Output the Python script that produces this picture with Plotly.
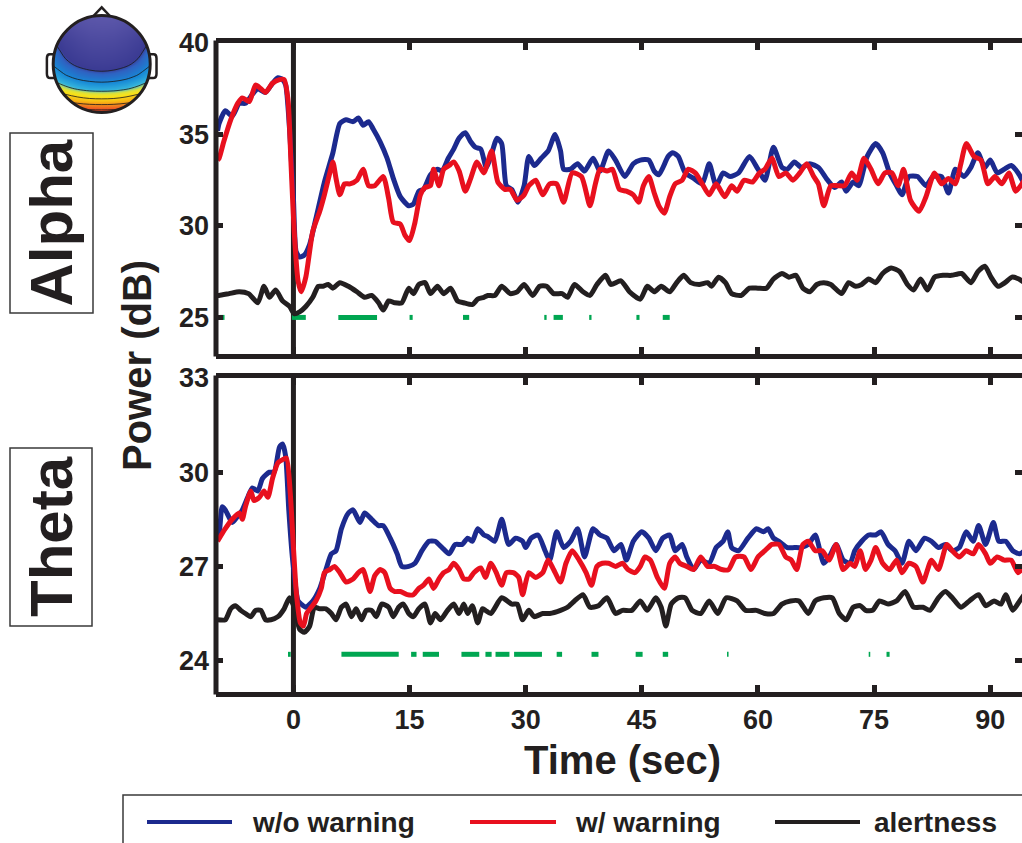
import plotly.graph_objects as go

W, H = 1022, 843

# ---------------- data ----------------
TIME_RANGE = [-10, 94.1]
STIM_ONSET = 0
X_TICKS = [0, 15, 30, 45, 60, 75, 90]

ALPHA_RANGE = [23, 40]
ALPHA_Y_TICKS = [25, 30, 35, 40]
THETA_RANGE = [23, 33]
THETA_Y_TICKS = [24, 27, 30, 33]

SERIES_NAMES = ["w/o warning", "w/ warning", "alertness"]
BAND_NAMES = ["Alpha", "Theta"]

# Alpha band, without warning
ALPHA_WO_T = [-9.8, -9.6, -8.8, -7.9, -7.0, -6.2, -5.3, -4.6, -3.6, -2.7, -2.0, -1.4, -1.0, -0.5, 0.0,
              0.35, 0.8, 1.4, 2.1, 2.9, 4.0, 5.1, 6.0, 6.8, 7.7, 8.4, 9.0, 9.7, 10.3, 11.2, 12.1, 12.9,
              13.8, 14.9, 15.5, 16.2, 16.8, 17.7, 18.6, 19.2, 20.0, 20.7, 21.4, 22.2, 22.9, 23.5, 24.2,
              24.9, 25.5, 26.3, 26.9, 27.5, 28.2, 29.0, 29.8, 30.4, 31.1, 32.0, 32.9, 33.8, 34.5, 34.9,
              35.8, 36.7, 37.6, 38.7, 39.6, 40.7, 41.6, 42.8, 43.9, 44.8, 45.9, 46.6, 47.2, 48.4, 49.0,
              49.7, 50.6, 51.7, 52.8, 53.7, 54.6, 55.5, 56.4, 57.5, 58.9, 60.0, 60.9, 62.0, 63.1, 63.8,
              64.7, 65.6, 66.7, 67.8, 69.0, 69.9, 70.8, 71.4, 72.3, 73.0, 74.1, 75.2, 76.1, 77.0, 77.9,
              78.6, 79.5, 80.6, 81.7, 82.6, 83.7, 84.6, 85.5, 86.6, 87.5, 88.4, 89.3, 90.0, 90.9, 91.8,
              92.7, 93.6, 94.4]
ALPHA_WO = [35.2, 35.6, 36.3, 36.0, 36.7, 36.7, 37.2, 37.5, 37.3, 37.8, 38.1, 38.0, 37.7, 35.3, 31.5,
            28.6, 28.3, 28.4, 29.0, 30.4, 32.4, 34.0, 35.6, 35.8, 35.7, 35.9, 35.5, 35.7, 35.3, 34.6, 33.7, 32.6,
            31.6, 31.1, 31.2, 31.9, 32.0, 32.8, 33.1, 33.0, 33.7, 34.2, 34.8, 35.1, 34.6, 34.3, 34.2,
            33.2, 33.8, 34.8, 34.5, 32.2, 32.0, 31.3, 32.2, 33.8, 33.3, 33.7, 34.1, 35.0, 34.1, 33.1,
            33.1, 33.4, 33.0, 33.7, 33.0, 34.1, 33.6, 32.7, 33.4, 33.6, 33.6, 33.0, 32.8, 33.8, 34.0,
            33.8, 32.9, 32.6, 32.3, 33.4, 32.2, 32.9, 32.7, 32.9, 33.8, 33.1, 32.5, 34.3, 33.2, 33.1,
            33.5, 33.2, 33.4, 33.2, 32.5, 32.1, 32.4, 31.9, 32.4, 32.2, 33.8, 34.5, 34.0, 32.9, 32.2,
            31.7, 32.7, 32.7, 32.2, 32.7, 32.7, 31.8, 33.1, 32.7, 33.2, 34.0, 33.2, 33.6, 32.9, 33.1,
            33.3, 32.9, 32.3]

# Alpha band, with warning
ALPHA_W_T = [-9.8, -9.6, -9.0, -8.1, -7.2, -6.6, -5.7, -4.9, -4.2, -3.6, -2.7, -1.8, -1.2, -0.7, -0.3,
             0.1, 0.6, 1.0, 1.6, 2.5, 3.4, 4.0, 4.7, 5.1, 5.5, 6.0, 6.6, 7.3, 8.2, 9.0, 9.7, 10.5, 11.6,
             12.3, 12.9, 13.8, 14.4, 15.0, 15.7, 16.4, 17.0, 17.7, 18.1, 18.8, 19.4, 20.1, 20.7, 21.4,
             22.2, 22.9, 23.7, 24.6, 25.6, 26.4, 27.3, 28.0, 28.9, 29.8, 30.4, 31.3, 32.2, 33.1, 34.0,
             34.9, 36.0, 37.2, 38.3, 39.0, 39.6, 40.5, 41.2, 42.1, 43.0, 43.9, 44.6, 45.2, 45.9, 46.6,
             47.2, 47.9, 48.6, 49.3, 50.2, 51.0, 51.9, 52.8, 53.7, 54.6, 55.7, 56.6, 57.3, 58.2, 59.3,
             60.2, 60.9, 61.8, 62.7, 63.6, 64.5, 65.4, 66.3, 67.2, 67.8, 68.5, 69.4, 70.3, 71.2, 72.1,
             72.8, 73.7, 74.6, 75.5, 76.4, 77.3, 78.1, 78.8, 79.7, 80.8, 81.7, 82.8, 83.7, 84.6, 85.5,
             86.2, 86.9, 87.9, 88.8, 89.7, 90.6, 91.5, 92.4, 93.3, 94.4]
ALPHA_W = [33.6, 33.7, 34.6, 35.8, 36.7, 37.0, 36.8, 37.7, 37.5, 37.3, 37.8, 38.0, 38.0, 36.9, 33.3,
           29.7, 27.0, 26.4, 27.2, 29.7, 30.8, 31.7, 32.9, 33.5, 32.6, 31.7, 32.3, 32.3, 32.5, 33.1, 32.2, 32.2, 32.7,
           31.5, 30.2, 30.1, 29.5, 29.2, 30.2, 31.7, 32.1, 32.2, 33.1, 32.2, 33.1, 33.3, 33.5, 33.0,
           31.9, 32.6, 33.5, 32.9, 34.1, 32.4, 32.0, 32.0, 31.4, 31.7, 32.2, 32.5, 31.7, 32.3, 32.3,
           31.3, 32.9, 32.7, 31.1, 32.3, 33.1, 33.0, 33.1, 32.0, 31.9, 31.7, 31.3, 32.2, 32.7, 31.8,
           31.1, 30.7, 31.6, 32.3, 32.5, 33.1, 32.9, 32.3, 31.7, 32.3, 31.6, 32.2, 31.9, 32.5, 32.4,
           32.9, 33.1, 33.7, 32.7, 32.9, 32.5, 32.9, 33.4, 32.7, 32.3, 31.1, 32.2, 32.2, 32.2, 32.9,
           32.5, 33.7, 33.1, 32.3, 32.9, 32.9, 32.2, 33.1, 31.4, 30.8, 31.6, 32.9, 32.3, 32.6, 32.3,
           33.4, 34.5, 33.8, 33.6, 32.3, 32.7, 32.3, 32.9, 31.9, 32.5]

# Alpha band, alertness
ALPHA_AL_T = [-9.8, -9.6, -8.3, -7.0, -5.8, -4.6, -3.8, -3.1, -2.3, -1.4, -0.5, 0.1, 0.8, 1.6, 2.5, 3.2,
              3.8, 4.5, 5.1, 6.0, 7.1, 8.2, 9.2, 10.1, 11.0, 11.6, 12.3, 13.1, 14.0, 14.9, 15.5, 16.2,
              17.0, 17.7, 18.6, 19.4, 20.3, 21.2, 22.0, 23.1, 23.8, 24.6, 25.1, 26.0, 26.9, 28.0, 28.9,
              29.8, 30.9, 31.8, 32.7, 33.6, 34.7, 35.4, 36.3, 37.4, 38.3, 39.2, 40.3, 41.0, 42.3, 43.4,
              44.8, 45.7, 46.6, 47.5, 48.6, 49.5, 50.4, 51.3, 52.4, 53.5, 54.0, 54.9, 55.8, 56.6, 57.8,
              58.9, 60.0, 61.1, 62.0, 63.1, 64.0, 64.9, 65.8, 66.7, 67.6, 68.5, 69.4, 70.8, 71.7, 72.6,
              73.4, 74.3, 75.2, 76.1, 77.2, 78.3, 79.3, 80.1, 81.0, 81.9, 82.8, 83.9, 85.0, 86.3, 87.5,
              88.4, 89.3, 90.1, 91.0, 91.9, 92.8, 93.7, 94.4]
ALPHA_AL = [26.2, 26.2, 26.3, 26.4, 26.3, 25.8, 26.7, 26.1, 26.5, 25.9, 25.6, 25.2, 25.3, 25.6, 26.1, 26.7,
            26.7, 26.8, 26.6, 26.9, 26.7, 26.4, 26.1, 26.2, 25.8, 25.4, 25.9, 25.8, 25.8, 26.6, 26.3, 26.8,
            26.9, 26.3, 26.7, 26.3, 26.6, 25.9, 25.8, 25.7, 26.0, 26.1, 26.2, 26.2, 26.7, 26.3, 26.4,
            26.8, 26.2, 26.7, 26.7, 26.3, 26.3, 26.1, 26.8, 26.4, 26.2, 26.8, 27.3, 26.8, 27.0, 26.4,
            26.0, 26.7, 26.4, 26.7, 26.4, 26.9, 27.3, 26.9, 26.8, 26.9, 26.7, 27.2, 26.9, 26.3, 26.2,
            26.6, 26.6, 26.6, 27.1, 27.4, 27.2, 27.3, 26.6, 26.4, 26.8, 26.9, 26.8, 26.3, 26.9, 26.7,
            26.8, 27.1, 26.9, 27.4, 27.7, 27.5, 26.8, 26.5, 27.1, 26.5, 27.2, 27.3, 27.3, 27.4, 26.9,
            27.5, 27.8, 27.2, 26.7, 26.9, 27.2, 27.1, 26.9]

# Theta band, without warning
THETA_WO_T = [-9.8, -9.6, -9.2, -8.8, -7.9, -7.2, -6.6, -5.9, -5.3, -4.6, -4.0, -3.1, -2.5, -1.8, -1.4,
              -1.0, -0.6, -0.1, 0.6, 1.0, 1.6, 2.5, 3.4, 4.2, 4.9, 5.5, 6.2, 7.1, 7.7, 8.6, 9.2, 10.1,
              11.0, 11.6, 12.5, 13.4, 14.0, 14.9, 15.7, 16.6, 17.5, 18.3, 19.2, 20.1, 20.9, 21.8, 22.5,
              23.1, 23.8, 24.6, 25.1, 26.0, 26.9, 27.8, 28.7, 29.6, 30.0, 30.7, 31.6, 32.5, 33.1, 34.0,
              34.9, 35.8, 36.7, 37.6, 38.7, 39.6, 40.5, 41.4, 42.3, 43.0, 43.9, 45.0, 45.9, 46.8, 47.7,
              48.6, 49.3, 50.2, 50.8, 51.7, 52.6, 53.7, 54.6, 55.5, 56.1, 56.6, 57.5, 58.7, 59.8, 60.7,
              61.3, 62.0, 62.7, 63.8, 64.7, 65.6, 66.5, 67.4, 68.5, 69.2, 70.1, 71.0, 71.9, 72.5, 73.4,
              74.3, 75.2, 75.9, 76.8, 77.7, 78.6, 79.5, 80.4, 81.5, 82.4, 83.3, 84.2, 85.1, 86.0, 86.9,
              87.8, 88.5, 89.4, 90.4, 91.1, 92.0, 92.9, 93.8, 94.4]
THETA_WO = [28.0, 28.05, 28.9, 28.8, 28.4, 28.6, 28.8, 29.2, 29.5, 29.4, 29.8, 30.0, 30.0, 30.8, 30.9,
            30.5, 28.8, 27.2, 25.9, 25.8, 25.7, 25.9, 26.3, 26.9, 27.4, 27.5, 28.2, 28.7, 28.8, 28.4, 28.7, 28.5,
            28.3, 28.3, 27.9, 27.4, 27.0, 27.0, 27.1, 27.5, 27.8, 27.8, 27.6, 27.4, 27.7, 27.7, 27.9,
            27.8, 28.2, 28.0, 27.95, 27.8, 28.5, 27.7, 27.9, 27.8, 27.6, 27.9, 28.0, 27.5, 27.2, 28.1,
            27.6, 27.8, 28.2, 27.3, 28.2, 28.0, 27.9, 27.5, 27.7, 27.2, 27.8, 28.1, 27.9, 27.5, 27.9,
            28.0, 27.5, 27.7, 27.3, 26.9, 27.2, 27.1, 27.6, 27.8, 28.1, 27.6, 27.5, 27.9, 28.2, 28.1,
            28.2, 27.9, 27.8, 27.6, 27.6, 27.6, 27.7, 28.0, 27.1, 27.3, 27.7, 27.2, 27.1, 27.5, 27.8,
            28.0, 28.0, 28.1, 27.7, 27.5, 27.1, 27.8, 27.5, 27.9, 27.8, 27.6, 27.7, 27.5, 27.6, 28.1,
            27.8, 28.3, 27.7, 28.4, 27.8, 27.8, 27.5, 27.4, 27.5]

# Theta band, with warning
THETA_W_T = [-9.8, -8.8, -7.9, -7.0, -6.6, -6.2, -5.5, -5.1, -4.4, -3.8, -3.3, -2.7, -2.0, -1.4, -0.9,
             -0.4, 0.0, 0.4, 0.9, 1.3, 1.7, 2.3, 2.9, 3.6, 4.0, 4.7, 5.3, 6.0, 6.8, 7.7, 8.4, 9.0, 9.4,
             9.9, 10.5, 11.2, 11.8, 12.5, 13.1, 13.8, 14.7, 15.5, 16.2, 16.8, 17.5, 18.1, 18.8, 19.4,
             20.1, 20.7, 21.4, 22.0, 22.7, 23.3, 24.2, 24.8, 25.5, 26.2, 26.9, 27.5, 28.4, 29.1, 29.6,
             30.4, 31.3, 32.2, 32.9, 33.6, 34.5, 35.2, 36.0, 36.9, 37.8, 38.5, 39.2, 39.9, 40.7, 41.6,
             42.5, 43.2, 44.1, 44.8, 45.4, 46.1, 47.0, 47.9, 48.6, 49.3, 49.9, 50.8, 51.7, 52.6, 53.5,
             54.4, 55.3, 56.2, 57.1, 58.2, 59.1, 60.0, 60.9, 61.8, 62.7, 63.6, 64.3, 65.0, 65.8, 66.5,
             67.4, 68.3, 69.2, 70.1, 71.0, 71.9, 72.5, 73.2, 73.9, 74.6, 75.2, 76.1, 77.0, 77.9, 78.6,
             79.5, 80.4, 81.3, 82.4, 83.3, 84.4, 85.1, 86.0, 86.9, 87.8, 88.5, 89.4, 90.0, 90.9, 91.8,
             92.7, 93.6, 94.4]
THETA_W = [27.8, 28.2, 28.5, 28.7, 28.5, 28.9, 29.4, 29.1, 29.2, 29.4, 29.2, 29.8, 30.3, 30.4, 30.45,
           29.3, 27.6, 26.1, 25.2, 25.1, 25.5, 25.7, 25.9, 26.3, 26.8, 26.9, 27.0, 26.8, 26.5, 26.6, 26.8, 26.9, 26.6,
           26.2, 26.7, 26.9, 26.8, 26.3, 26.2, 26.2, 26.1, 26.1, 26.3, 26.4, 26.6, 26.3, 26.6, 26.8,
           26.9, 27.1, 26.9, 26.6, 26.6, 26.8, 26.95, 26.65, 27.1, 26.8, 26.4, 26.8, 26.8, 26.65, 26.1,
           26.8, 26.65, 26.8, 27.2, 26.9, 26.5, 27.1, 27.5, 27.2, 26.8, 26.4, 27.0, 27.1, 27.1, 27.0,
           27.1, 26.9, 26.8, 27.0, 27.3, 27.2, 26.65, 26.3, 27.1, 27.3, 27.1, 27.0, 26.9, 27.3, 27.0,
           27.0, 26.9, 26.9, 27.3, 27.3, 26.9, 27.3, 27.5, 27.7, 27.7, 27.3, 27.2, 26.9, 27.7, 27.8,
           27.5, 27.5, 27.2, 27.7, 26.9, 27.1, 27.0, 27.5, 26.9, 27.2, 27.6, 27.1, 26.9, 27.2, 26.8,
           27.1, 27.0, 26.5, 27.2, 26.9, 27.7, 27.5, 27.3, 27.5, 27.4, 27.7, 27.4, 27.1, 27.3, 27.2,
           27.2, 26.8, 27.0]

# Theta band, alertness
THETA_AL_T = [-9.8, -8.8, -8.1, -7.5, -6.8, -6.2, -5.5, -4.9, -4.2, -3.6, -2.9, -2.0, -1.2, -0.5, 0.1,
              0.8, 1.4, 2.1, 2.7, 3.4, 4.2, 4.9, 5.5, 6.2, 6.8, 7.5, 8.1, 8.8, 9.4, 10.1, 10.7, 11.4,
              12.3, 12.9, 13.6, 14.2, 14.9, 15.5, 16.2, 17.0, 17.7, 18.3, 19.0, 19.9, 20.7, 21.4, 22.0,
              22.5, 23.1, 23.8, 24.4, 24.8, 25.5, 26.9, 28.2, 28.9, 29.6, 30.4, 31.1, 32.2, 33.1, 34.5,
              35.4, 36.3, 37.4, 38.3, 39.4, 40.5, 41.6, 42.5, 43.7, 44.8, 45.7, 46.8, 47.5, 48.1, 48.8,
              49.7, 50.6, 51.5, 52.6, 53.7, 54.8, 55.9, 57.3, 58.4, 59.8, 60.9, 62.0, 63.1, 64.2, 65.3,
              66.5, 67.4, 68.5, 69.6, 70.5, 71.4, 72.3, 73.2, 73.9, 74.8, 75.7, 76.8, 77.9, 79.0, 80.1,
              81.3, 82.2, 83.3, 84.2, 85.1, 86.2, 87.3, 88.5, 89.4, 90.5, 91.4, 92.0, 92.9, 93.8, 94.4]
THETA_AL = [25.3, 25.3, 25.65, 25.75, 25.6, 25.5, 25.4, 25.6, 25.6, 25.3, 25.3, 25.4, 25.65, 26.0, 25.7,
            25.0, 24.9, 25.1, 25.7, 25.65, 25.65, 25.5, 25.3, 25.7, 25.8, 25.4, 25.65, 25.3, 25.6, 25.6, 25.4, 25.8,
            25.7, 25.4, 25.7, 25.8, 25.5, 25.4, 25.65, 25.8, 25.2, 25.5, 25.3, 25.6, 25.8, 25.5, 25.8,
            25.5, 25.75, 25.2, 25.65, 25.6, 25.5, 26.0, 25.8, 25.8, 25.3, 25.6, 25.4, 25.5, 25.5, 25.6,
            25.7, 25.9, 26.1, 25.7, 25.75, 26.0, 25.5, 25.6, 25.6, 25.9, 25.6, 26.0, 25.7, 25.1, 25.8,
            26.0, 26.0, 25.6, 25.5, 25.9, 25.5, 26.0, 25.9, 25.6, 25.6, 25.5, 25.5, 25.8, 25.9, 25.9,
            25.5, 25.9, 26.0, 26.0, 25.5, 25.3, 25.7, 25.75, 25.6, 25.6, 25.9, 25.8, 25.9, 26.2, 25.7,
            25.7, 25.6, 26.0, 26.2, 26.0, 25.7, 25.9, 26.1, 25.75, 25.9, 25.8, 26.1, 25.6, 25.9, 26.1]

# Time windows with a significant difference between conditions
ALPHA_SIG = [(-9.5, -8.9), (-0.2, 1.6), (5.8, 10.8), (15.0, 15.4), (21.9, 22.7), (32.4, 32.7),
             (33.6, 34.8), (38.2, 38.5), (44.3, 44.7), (47.7, 48.6)]
THETA_SIG = [(-0.7, -0.35), (6.2, 13.6), (15.2, 15.9), (16.7, 18.8), (21.7, 24.0), (24.8, 25.6),
             (26.1, 27.9), (28.5, 32.1), (34.0, 34.7), (38.5, 39.4), (44.2, 45.1), (47.7, 48.4),
             (56.0, 56.2), (74.3, 74.5), (76.6, 77.0)]
ALPHA_SIG_LEVEL = 25.0
THETA_SIG_LEVEL = 24.2

# Scalp topography (coarse grid over the head, nose up)
TOPO_X = [-1, -0.75, -0.5, -0.25, 0, 0.25, 0.5, 0.75, 1]
TOPO_Y = [-1, -0.75, -0.5, -0.25, 0, 0.25, 0.5, 0.75, 1]
TOPO_Z = [
    [7.5, 7.1, 6.75, 6.55, 6.5, 6.55, 6.75, 7.1, 7.5],
    [5.2, 4.8, 4.45, 4.25, 4.2, 4.25, 4.45, 4.8, 5.2],
    [3.6, 3.2, 2.85, 2.65, 2.6, 2.65, 2.85, 3.2, 3.6],
    [2.6, 2.1, 1.7, 1.5, 1.4, 1.5, 1.7, 2.1, 2.6],
    [1.9, 1.25, 0.8, 0.5, 0.4, 0.5, 0.8, 1.25, 1.9],
    [1.5, 0.7, 0.15, -0.2, -0.3, -0.2, 0.15, 0.7, 1.5],
    [1.0, 0.1, -0.5, -0.9, -1.0, -0.9, -0.5, 0.1, 1.0],
    [0.2, -0.7, -1.3, -1.7, -1.8, -1.7, -1.3, -0.7, 0.2],
    [-0.5, -1.4, -2.0, -2.4, -2.5, -2.4, -2.0, -1.4, -0.5],
]

# ---------------- style ----------------
BLUE = "#1c2a8e"
RED = "#e8101e"
INK = "#231f20"
GREEN = "#00a651"
FONT = "Liberation Sans, Arial, sans-serif"
LW = 5


def px(x):
    return x / W


def py(y):
    return 1 - y / H


def segments(windows, level):
    xs, ys = [], []
    for a, b in windows:
        xs += [a, b, None]
        ys += [level, level, None]
    return xs, ys


fig = go.Figure()

panels = [
    ("x", "y", ALPHA_WO_T, ALPHA_WO, ALPHA_W_T, ALPHA_W, ALPHA_AL_T, ALPHA_AL, ALPHA_SIG, ALPHA_SIG_LEVEL),
    ("x2", "y2", THETA_WO_T, THETA_WO, THETA_W_T, THETA_W, THETA_AL_T, THETA_AL, THETA_SIG, THETA_SIG_LEVEL),
]
for xa, ya, t_wo, v_wo, t_w, v_w, t_al, v_al, sig, lvl in panels:
    sx, sy = segments(sig, lvl)
    fig.add_trace(go.Scatter(x=sx, y=sy, mode="lines", xaxis=xa, yaxis=ya,
                             line=dict(color=GREEN, width=5), showlegend=False, hoverinfo="skip"))
    for t, v, c, name in [(t_al, v_al, INK, SERIES_NAMES[2]),
                          (t_wo, v_wo, BLUE, SERIES_NAMES[0]),
                          (t_w, v_w, RED, SERIES_NAMES[1])]:
        fig.add_trace(go.Scatter(x=t, y=v, mode="lines", name=name, xaxis=xa, yaxis=ya,
                                 line=dict(color=c, width=LW, shape="spline", smoothing=0.6),
                                 showlegend=False))

# head map
fig.add_trace(go.Contour(
    x=TOPO_X, y=TOPO_Y, z=TOPO_Z, xaxis="x3", yaxis="y3",
    zmin=-2.5, zmax=7, showscale=False, hoverinfo="skip",
    contours=dict(start=1, end=6, size=1, coloring="heatmap"),
    line=dict(color="#1a1a1a", width=0.8),
    colorscale=[[0.0, "#5d58ab"], [0.358, "#3b3b93"], [0.389, "#2f62c2"], [0.474, "#1788d6"],
                [0.558, "#35b5dd"], [0.60, "#d8e040"], [0.642, "#f8e41a"], [0.726, "#f8b814"],
                [0.789, "#f28a1e"], [0.874, "#ec5424"], [1.0, "#e0251f"]],
))

tickfont = dict(family=FONT, size=27, color=INK, weight="bold")
common_x = dict(range=TIME_RANGE, tickvals=X_TICKS, ticks="inside", ticklen=7, tickwidth=5,
                tickcolor=INK, showline=True, linewidth=LW, linecolor=INK, mirror="ticks",
                showgrid=False, zeroline=False, domain=[px(216), 1], tickfont=tickfont,
                automargin=False)
common_y = dict(ticks="inside", ticklen=7, tickwidth=5, tickcolor=INK, showline=False,
                mirror="ticks", showgrid=False, zeroline=False, tickfont=tickfont,
                automargin=False, ticklabelstandoff=6)

fig.update_layout(
    width=W, height=H, margin=dict(l=0, r=0, t=0, b=0, autoexpand=False),
    paper_bgcolor="white", plot_bgcolor="white", showlegend=False,
    xaxis=dict(anchor="y", showticklabels=False, **common_x),
    yaxis=dict(anchor="x", range=ALPHA_RANGE, tickvals=ALPHA_Y_TICKS,
               domain=[py(354), py(43)], **common_y),
    xaxis2=dict(anchor="y2", showticklabels=True, **common_x),
    yaxis2=dict(anchor="x2", range=THETA_RANGE, tickvals=THETA_Y_TICKS,
                domain=[py(692), py(378)], **common_y),
    xaxis3=dict(domain=[px(40), px(165)], range=[-1.272, 1.305], visible=False, anchor="y3",
                automargin=False),
    yaxis3=dict(domain=[py(128), 1], range=[-1.32, 1.32], visible=False, anchor="x3",
                automargin=False),
)

shapes = []
for xa, ya in [("x", "y"), ("x2", "y2")]:
    # left frame edge
    shapes.append(dict(type="line", xref=f"{xa} domain", yref=f"{ya} domain",
                       x0=0, x1=0, y0=-0.008, y1=1.008, line=dict(color=INK, width=LW)))
    # stimulus onset
    shapes.append(dict(type="line", xref=xa, yref=f"{ya} domain", x0=STIM_ONSET, x1=STIM_ONSET,
                       y0=0, y1=1, line=dict(color=INK, width=LW), layer="below"))

# head outline pieces
k = 0.5523
circle = (f"M1,0 C1,{k} {k},1 0,1 C-{k},1 -1,{k} -1,0 "
          f"C-1,-{k} -{k},-1 0,-1 C{k},-1 1,-{k} 1,0 Z")
shapes.append(dict(type="path", xref="x3", yref="y3",
                   path="M-1.1,-1.1 L1.1,-1.1 L1.1,1.1 L-1.1,1.1 Z " + circle,
                   fillcolor="white", fillrule="evenodd", line=dict(width=0)))
shapes.append(dict(type="path", xref="x3", yref="y3", path=circle,
                   line=dict(color=INK, width=3)))
shapes.append(dict(type="path", xref="x3", yref="y3",
                   path="M-0.17,0.99 L0,1.17 L0.17,0.99", line=dict(color=INK, width=2.5)))
for s in (-1, 1):
    shapes.append(dict(type="path", xref="x3", yref="y3",
                       path=(f"M{0.97*s},0.2 L{1.07*s},0.2 Q{1.13*s},0.2 {1.13*s},0.12 "
                             f"L{1.13*s},-0.2 Q{1.13*s},-0.29 {1.06*s},-0.29 L{0.97*s},-0.29"),
                       line=dict(color=INK, width=2.5)))

# band label boxes
for (x0, y0, x1, y1) in [(10, 133, 93, 313), (10, 448, 92, 626)]:
    shapes.append(dict(type="rect", xref="paper", yref="paper", x0=px(x0), x1=px(x1),
                       y0=py(y1), y1=py(y0), line=dict(color="#3a3a3a", width=1.5)))

# legend frame and samples
shapes.append(dict(type="rect", xref="paper", yref="paper", x0=px(123), x1=px(1040),
                   y0=py(870), y1=py(795), line=dict(color="#3a3a3a", width=1.5)))
legend_items = [(147, 232, 250, BLUE, SERIES_NAMES[0]),
                (470, 556, 573, RED, SERIES_NAMES[1]),
                (775, 860, 872, INK, SERIES_NAMES[2])]
annotations = []
for x0, x1, xt, c, name in legend_items:
    shapes.append(dict(type="line", xref="paper", yref="paper", x0=px(x0), x1=px(x1),
                       y0=py(822), y1=py(822), line=dict(color=c, width=4)))
    annotations.append(dict(text=name, x=px(xt), y=py(822), xref="paper", yref="paper",
                            xanchor="left", yanchor="middle", showarrow=False,
                            font=dict(family=FONT, size=28, color=INK, weight="bold")))

annotations += [
    dict(text=BAND_NAMES[0], x=px(51.5), y=py(223), textangle=-90),
    dict(text=BAND_NAMES[1], x=px(51), y=py(537), textangle=-90),
]
for a in annotations[-2:]:
    a.update(xref="paper", yref="paper", xanchor="center", yanchor="middle", showarrow=False,
             font=dict(family=FONT, size=60, color=INK, weight="bold"))

annotations += [
    dict(text="Power (dB)", x=px(137), y=py(366), textangle=-90, xref="paper", yref="paper",
         xanchor="center", yanchor="middle", showarrow=False,
         font=dict(family=FONT, size=40, color=INK, weight="bold")),
    dict(text="Time (sec)", x=px(622), y=py(760), xref="paper", yref="paper",
         xanchor="center", yanchor="middle", showarrow=False,
         font=dict(family=FONT, size=40, color=INK, weight="bold")),
]

fig.update_layout(shapes=shapes, annotations=annotations)
fig.write_html("out.html")
